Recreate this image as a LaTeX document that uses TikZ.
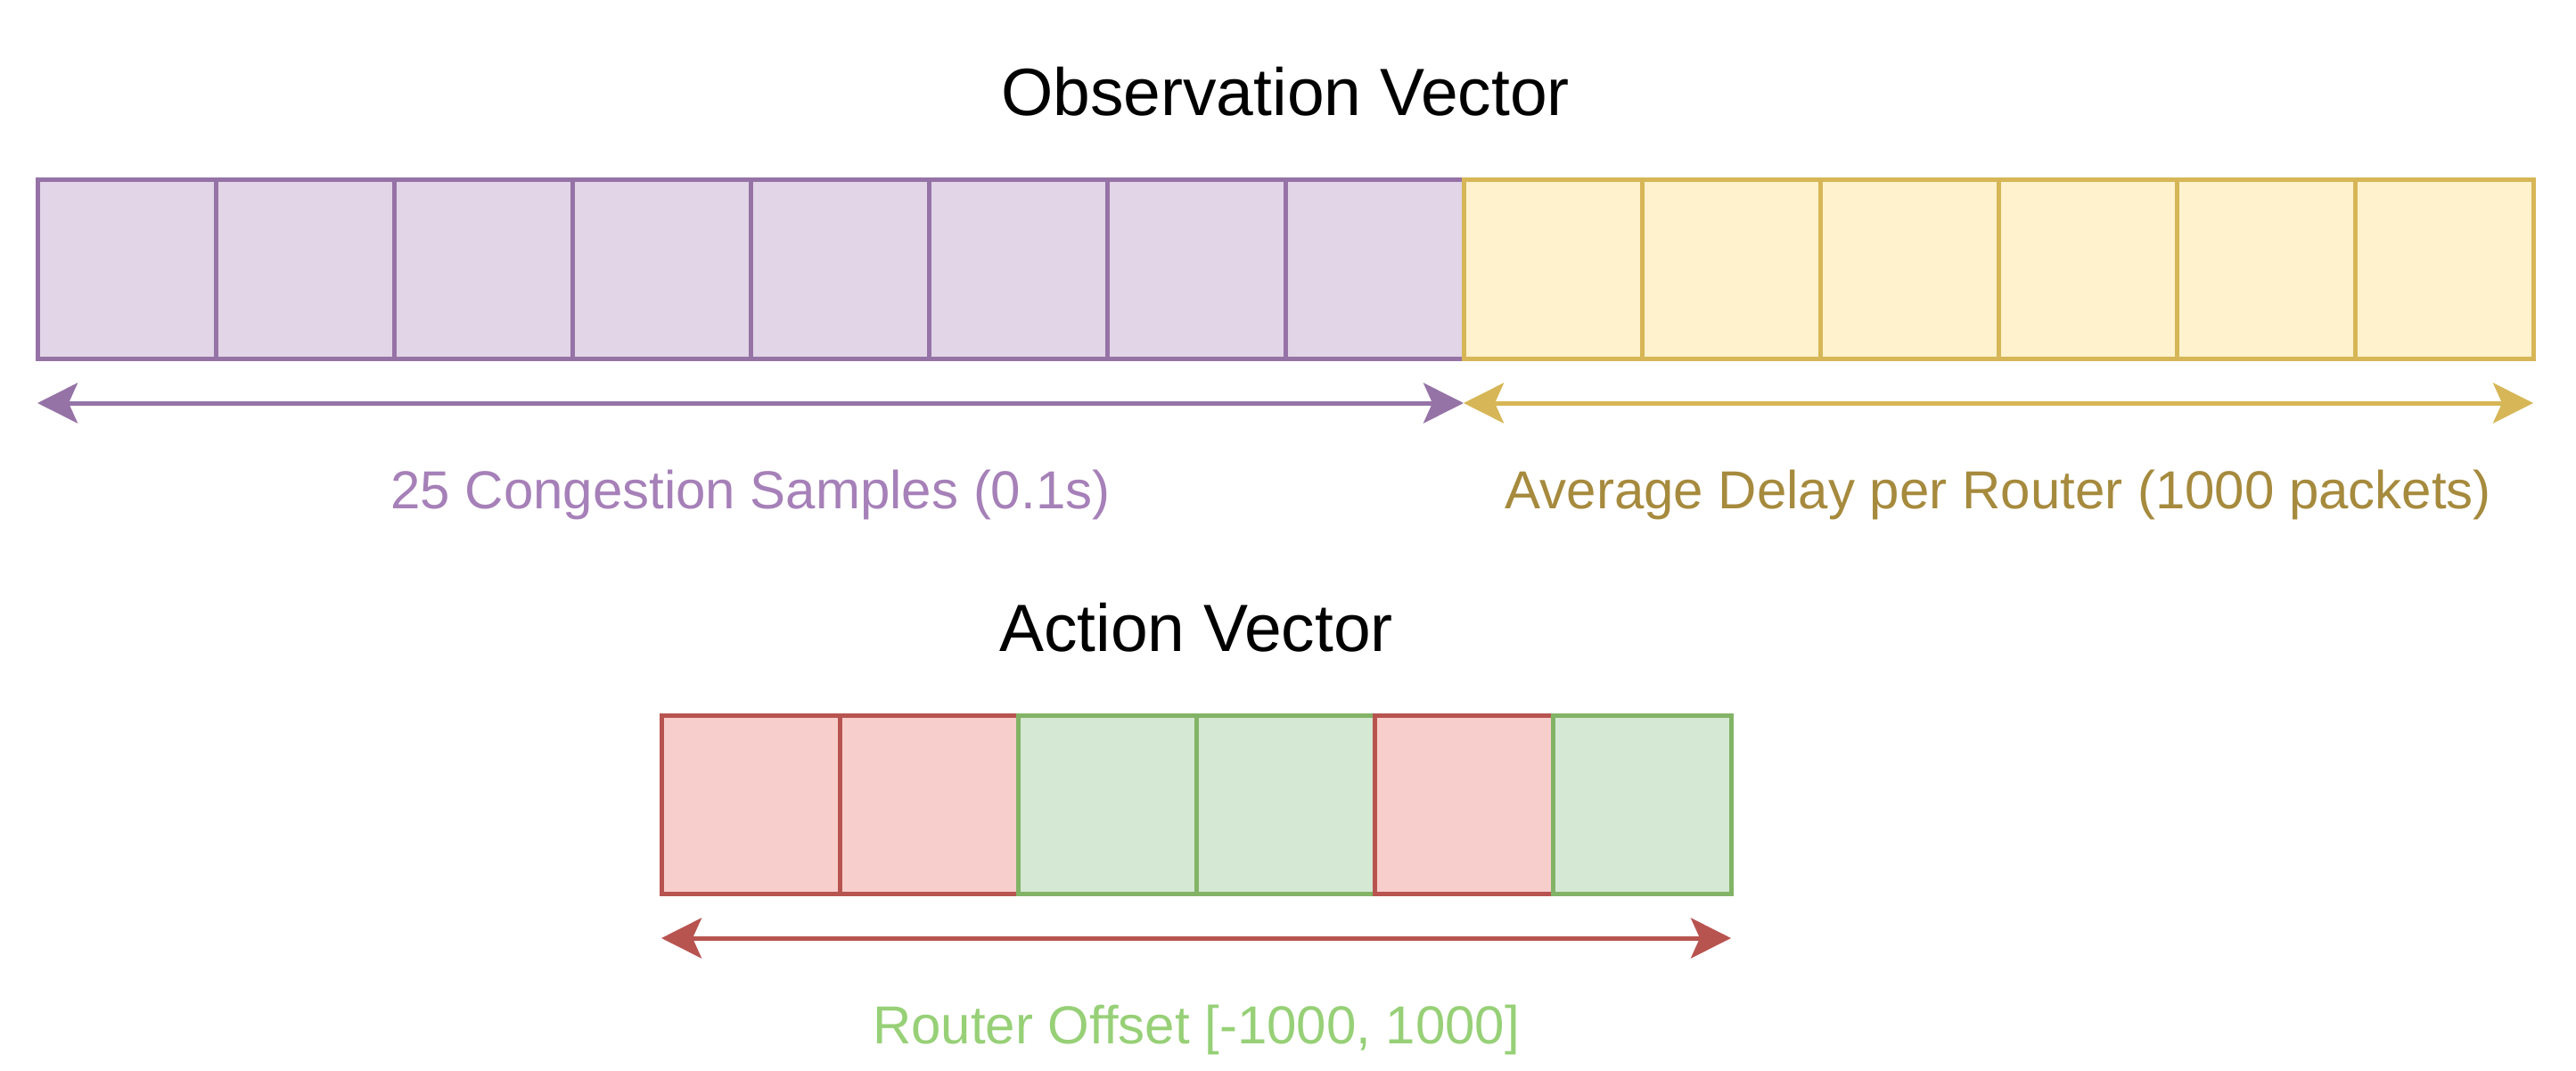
\documentclass[tikz,border=0pt]{standalone}
\usepackage{fontspec}
\setmainfont{Liberation Sans}
\usepackage{xcolor}
\usetikzlibrary{positioning,arrows.meta}

\definecolor{obsline}{HTML}{9673A6}
\definecolor{obsfill}{HTML}{E1D5E7}
\definecolor{obstext}{HTML}{A680B8}
\definecolor{delline}{HTML}{D6B656}
\definecolor{delfill}{HTML}{FFF2CC}
\definecolor{deltext}{HTML}{A68A3D}
\definecolor{redline}{HTML}{B85450}
\definecolor{redfill}{HTML}{F8CECC}
\definecolor{greenline}{HTML}{82B366}
\definecolor{greenfill}{HTML}{D5E8D4}
\definecolor{acttext}{HTML}{97D077}

\tikzset{
  cell/.style={draw,line width=0.05cm,minimum size=2cm,inner sep=0pt,outer sep=0pt},
  obscell/.style={cell,draw=obsline,fill=obsfill},
  delcell/.style={cell,draw=delline,fill=delfill},
  redcell/.style={cell,draw=redline,fill=redfill},
  greencell/.style={cell,draw=greenline,fill=greenfill},
  vtitle/.style={anchor=base,font=\fontsize{21.34}{25}\selectfont},
  vlabel/.style={anchor=base,font=\fontsize{17.07}{20}\selectfont},
  span/.style={line width=0.05cm,
    {Stealth[length=0.45cm,width=0.45cm,inset=0.1cm]}-{Stealth[length=0.45cm,width=0.45cm,inset=0.1cm]}}
}

\begin{document}
\begin{tikzpicture}
\useasboundingbox (0,0) rectangle (28.9,12);
%
\node[vtitle] (obstitle) at (14.42,10.70) {Observation Vector};
\foreach \i in {0,...,7}
  \node[obscell] (o\i) at (1.42+2*\i,8.98) {};
\foreach \i in {8,...,13}
  \node[delcell] (o\i) at (1.42+2*\i,8.98) {};
\coordinate[below=0.5cm of o0.south west] (sa);
\coordinate[below=0.5cm of o7.south east] (sb);
\coordinate[below=0.5cm of o13.south east] (sc);
\draw[span,obsline] (sa) -- (sb);
\draw[span,delline] (sb) -- (sc);
\node[vlabel,text=obstext] (congest) at (8.42,6.30) {25 Congestion Samples (0.1s)};
\node[vlabel,text=deltext] (delay) at (22.42,6.30) {Average Delay per Router (1000 packets)};
%
\node[vtitle] (acttitle) at (13.42,4.70) {Action Vector};
\foreach \i/\c in {0/redcell,1/redcell,2/greencell,3/greencell,4/redcell,5/greencell}
  \node[\c] (a\i) at (8.42+2*\i,2.98) {};
\coordinate[below=0.5cm of a0.south west] (aa);
\coordinate[below=0.5cm of a5.south east] (ab);
\draw[span,redline] (aa) -- (ab);
\node[vlabel,text=acttext] (offset) at (13.42,0.30) {Router Offset [-1000, 1000]};
\end{tikzpicture}
\end{document}
